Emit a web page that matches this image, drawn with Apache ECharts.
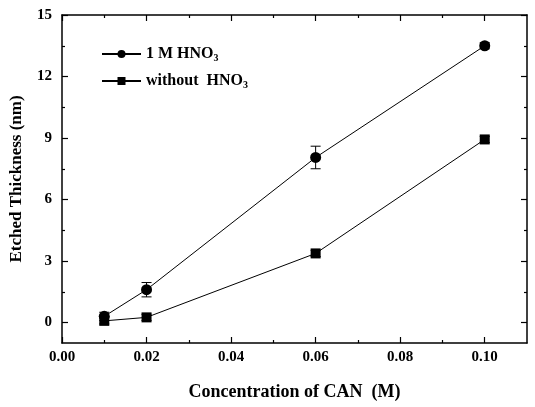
<!DOCTYPE html>
<html>
<head>
<meta charset="utf-8">
<script src="https://cdn.jsdelivr.net/npm/echarts@6/dist/echarts.min.js"></script>
<style>
  html, body { margin: 0; padding: 0; background: #fff; }
  #chart { width: 535px; height: 407px; }
</style>
</head>
<body>
<div id="chart"></div>
<script>
// data
var conc = [0.01, 0.02, 0.06, 0.10];
var withAcid = [0.3, 1.6, 8.05, 13.5];
var withAcidErr = [0.2, 0.35, 0.55, 0.15];
var noAcid = [0.08, 0.25, 3.37, 8.93];
var noAcidErr = [0.15, 0.15, 0.15, 0.15];
var xMajor = [0, 0.02, 0.04, 0.06, 0.08, 0.10];
var xMinor = [0.01, 0.03, 0.05, 0.07, 0.09];
var yMajor = [0, 3, 6, 9, 12, 15];
var yMinor = [1.5, 4.5, 7.5, 10.5, 13.5];

var font = "'Liberation Serif', 'Times New Roman', serif";

function pairs(xs, ys) {
  return xs.map(function (x, i) { return [x, ys[i]]; });
}
function errs(xs, ys, es) {
  return xs.map(function (x, i) { return [x, ys[i] - es[i], ys[i] + es[i]]; });
}

function errorBar(params, api) {
  var lo = api.coord([api.value(0), api.value(1)]);
  var hi = api.coord([api.value(0), api.value(2)]);
  var w = 5;
  var st = { stroke: '#000', lineWidth: 1 };
  return {
    type: 'group',
    children: [
      { type: 'line', shape: { x1: lo[0], y1: lo[1], x2: hi[0], y2: hi[1] }, style: st },
      { type: 'line', shape: { x1: lo[0] - w, y1: lo[1], x2: lo[0] + w, y2: lo[1] }, style: st },
      { type: 'line', shape: { x1: hi[0] - w, y1: hi[1], x2: hi[0] + w, y2: hi[1] }, style: st }
    ]
  };
}

function xAx(pos, ticks, len, labels) {
  return {
    type: 'value', position: pos, min: 0, max: 0.11,
    axisLine: { show: labels, onZero: false, lineStyle: { color: '#000', width: 1.5 } },
    splitLine: { show: false },
    axisTick: { show: true, inside: true, length: len, customValues: ticks, lineStyle: { color: '#000', width: 1.2 } },
    axisLabel: labels && pos === 'bottom' ? {
      customValues: xMajor, color: '#000', fontFamily: font, fontWeight: 'bold', fontSize: 15, margin: 7,
      formatter: function (v) { return v.toFixed(2); }
    } : { show: false },
    name: labels && pos === 'bottom' ? 'Concentration of CAN  (M)' : '',
    nameLocation: 'middle', nameGap: 40,
    nameTextStyle: { color: '#000', fontFamily: font, fontWeight: 'bold', fontSize: 18 }
  };
}
function yAx(pos, ticks, len, labels) {
  return {
    type: 'value', position: pos, min: -1, max: 15,
    axisLine: { show: labels, onZero: false, lineStyle: { color: '#000', width: 1.5 } },
    splitLine: { show: false },
    axisTick: { show: true, inside: true, length: len, customValues: ticks, lineStyle: { color: '#000', width: 1.2 } },
    axisLabel: labels && pos === 'left' ? {
      customValues: yMajor, color: '#000', fontFamily: font, fontWeight: 'bold', fontSize: 15, margin: 10
    } : { show: false },
    name: labels && pos === 'left' ? 'Etched Thickness (nm)' : '',
    nameLocation: 'middle', nameGap: 37,
    nameTextStyle: { color: '#000', fontFamily: font, fontWeight: 'bold', fontSize: 17 }
  };
}

var chart = echarts.init(document.getElementById('chart'));
chart.setOption({
  animation: false,
  backgroundColor: '#fff',
  grid: { left: 62, top: 15, right: 8, bottom: 64 },
  legend: {
    left: 96, top: 40, orient: 'vertical', itemGap: 9,
    itemWidth: 39, itemHeight: 10,
    data: ['1 M HNO3', 'without HNO3'],
    formatter: function (name) {
      return name === '1 M HNO3' ? '{t|1 M HNO}{s|3}' : '{t|without  HNO}{s|3}';
    },
    textStyle: {
      color: '#000', fontFamily: font, fontWeight: 'bold', fontSize: 16,
      rich: {
        t: { fontFamily: font, fontWeight: 'bold', fontSize: 16, lineHeight: 18 },
        s: { fontFamily: font, fontWeight: 'bold', fontSize: 10, lineHeight: 18, verticalAlign: 'bottom', padding: [8, 0, 0, 0] }
      }
    }
  },
  xAxis: [
    xAx('bottom', xMajor, 6, true),
    xAx('bottom', xMinor, 3, false),
    xAx('top', xMajor, 6, true),
    xAx('top', xMinor, 3, false)
  ],
  yAxis: [
    yAx('left', yMajor, 6, true),
    yAx('left', yMinor, 3, false),
    yAx('right', yMajor, 6, true),
    yAx('right', yMinor, 3, false)
  ],
  series: [
    {
      name: '1 M HNO3', type: 'line', data: pairs(conc, withAcid),
      symbol: 'circle', symbolSize: 11,
      itemStyle: { color: '#000' }, lineStyle: { color: '#000', width: 1 }, z: 3
    },
    {
      name: 'without HNO3', type: 'line', data: pairs(conc, noAcid),
      symbol: 'rect', symbolSize: 10,
      itemStyle: { color: '#000' }, lineStyle: { color: '#000', width: 1 }, z: 3
    },
    { type: 'custom', renderItem: errorBar, data: errs(conc, withAcid, withAcidErr), encode: { x: 0, y: [1, 2] }, z: 2 },
    { type: 'custom', renderItem: errorBar, data: errs(conc, noAcid, noAcidErr), encode: { x: 0, y: [1, 2] }, z: 2 }
  ]
});
</script>
</body>
</html>
